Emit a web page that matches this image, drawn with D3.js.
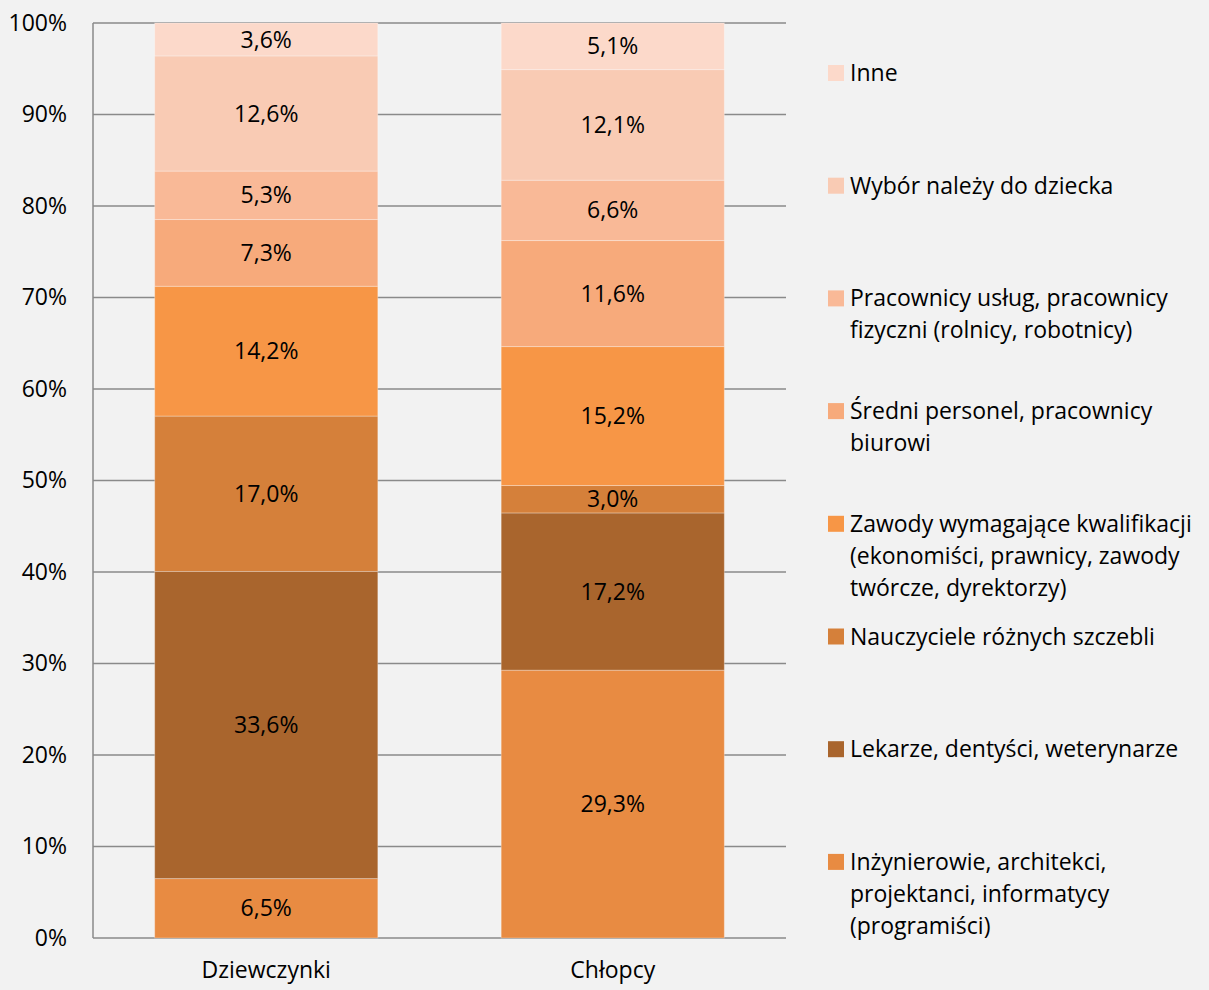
<!DOCTYPE html>
<html>
<head>
<meta charset="utf-8">
<script src="https://cdn.jsdelivr.net/npm/d3@7"></script>
<style>
  html, body { margin: 0; padding: 0; background: #f2f2f2; }
  svg { display: block; font-family: 'Open Sans', sans-serif; }
</style>
</head>
<body>
<div id="chart"></div>
<script>
const width = 1209;
const height = 990;
const fontSize = 23;

const groups = ['Dziewczynki', 'Chłopcy'];

// bottom to top
const series = [
    'Inżynierowie, architekci, projektanci, informatycy (programiści)',
    'Lekarze, dentyści, weterynarze',
    'Nauczyciele różnych szczebli',
    'Zawody wymagające kwalifikacji (ekonomiści, prawnicy, zawody twórcze, dyrektorzy)',
    'Średni personel, pracownicy biurowi',
    'Pracownicy usług, pracownicy fizyczni (rolnicy, robotnicy)',
    'Wybór należy do dziecka',
    'Inne',
];

const girls = [6.5, 33.6, 17.0, 14.2, 7.3, 5.3, 12.6, 3.6];
const boys = [29.3, 17.2, 3.0, 15.2, 11.6, 6.6, 12.1, 5.1];

const legendLines = [
    ['Inżynierowie, architekci,', 'projektanci, informatycy', '(programiści)'],
    ['Lekarze, dentyści, weterynarze'],
    ['Nauczyciele różnych szczebli'],
    ['Zawody wymagające kwalifikacji', '(ekonomiści, prawnicy, zawody', 'twórcze, dyrektorzy)'],
    ['Średni personel, pracownicy', 'biurowi'],
    ['Pracownicy usług, pracownicy', 'fizyczni (rolnicy, robotnicy)'],
    ['Wybór należy do dziecka'],
    ['Inne'],
];

const colors = ['#e88b42', '#a9652d', '#d5803a', '#f79646', '#f7aa7b', '#f9b997', '#f9cbb4', '#fcd9ca'];

const yTicks = [0, 0.1, 0.2, 0.3, 0.4, 0.5, 0.6, 0.7, 0.8, 0.9, 1];

const margin = {top: 23, left: 93, right: 423, bottom: 52};
const plotRight = width - margin.right;
const plotBottom = height - margin.bottom;

const table = groups.map((g, i) => {
    const row = {group: g};
    const vals = i === 0 ? girls : boys;
    series.forEach((s, j) => row[s] = vals[j]);
    return row;
});

const stack = d3.stack()
    .keys(series)
    .offset(d3.stackOffsetExpand);
const stacked = stack(table);

const x = d3.scaleBand()
    .domain(groups)
    .range([margin.left, plotRight])
    .paddingInner(0.356)
    .paddingOuter(0.178);

const y = d3.scaleLinear()
    .domain([0, 1])
    .range([plotBottom, margin.top]);

const color = d3.scaleOrdinal().domain(series).range(colors);

const svg = d3.select('#chart').append('svg')
    .attr('width', width)
    .attr('height', height);

svg.append('rect')
    .attr('width', width)
    .attr('height', height)
    .attr('fill', '#f2f2f2');

// grid
svg.append('g')
    .selectAll('line')
    .data(yTicks)
    .join('line')
    .attr('x1', margin.left)
    .attr('x2', plotRight)
    .attr('y1', d => y(d))
    .attr('y2', d => y(d))
    .attr('stroke', '#8a8a8a')
    .attr('stroke-width', 1.5);

svg.append('line')
    .attr('x1', margin.left)
    .attr('x2', margin.left)
    .attr('y1', margin.top)
    .attr('y2', plotBottom)
    .attr('stroke', '#8a8a8a')
    .attr('stroke-width', 1.5);

// y axis labels
const yAxis = d3.axisLeft(y)
    .tickValues(yTicks)
    .tickFormat(d3.format('.0%'))
    .tickSize(0)
    .tickPadding(26);

svg.append('g')
    .attr('transform', `translate(${margin.left},0)`)
    .call(yAxis)
    .call(g => g.select('.domain').remove())
    .selectAll('text')
    .attr('font-family', "'Open Sans', sans-serif")
    .attr('font-size', fontSize)
    .attr('fill', '#000');

// x axis labels
const xAxis = d3.axisBottom(x).tickSize(0).tickPadding(24);
svg.append('g')
    .attr('transform', `translate(0,${plotBottom})`)
    .call(xAxis)
    .call(g => g.select('.domain').remove())
    .selectAll('text')
    .attr('font-family', "'Open Sans', sans-serif")
    .attr('font-size', fontSize)
    .attr('fill', '#000');

// bars
const layer = svg.append('g')
    .selectAll('g')
    .data(stacked)
    .join('g')
    .attr('fill', d => color(d.key));

layer.selectAll('rect')
    .data(d => d)
    .join('rect')
    .attr('x', d => x(d.data.group))
    .attr('width', x.bandwidth())
    .attr('y', d => y(d[1]))
    .attr('height', d => y(d[0]) - y(d[1]))
    .attr('stroke', '#ffffff')
    .attr('stroke-opacity', 0.3)
    .attr('stroke-width', 1);

// data labels
const fmt = v => v.toFixed(1).replace('.', ',') + '%';
stacked.forEach(s => {
    svg.append('g')
        .selectAll('text')
        .data(s)
        .join('text')
        .attr('x', d => x(d.data.group) + x.bandwidth() / 2)
        .attr('y', d => (y(d[0]) + y(d[1])) / 2)
        .attr('dy', '0.35em')
        .attr('text-anchor', 'middle')
        .attr('font-size', fontSize)
        .attr('fill', '#000')
        .text(d => fmt(d.data[s.key]));
});

// legend, top entry = last series
const legendX = 828;
const legendTop = 73;
const legendStep = 112.7;
const lineH = 32;

const legend = svg.append('g')
    .selectAll('g')
    .data(series.map((s, i) => ({key: s, lines: legendLines[i], idx: series.length - 1 - i})))
    .join('g')
    .attr('transform', d => `translate(${legendX},${legendTop + d.idx * legendStep})`);

legend.append('rect')
    .attr('x', 0)
    .attr('y', -8)
    .attr('width', 16)
    .attr('height', 16)
    .attr('fill', d => color(d.key));

legend.append('text')
    .attr('font-size', fontSize)
    .attr('fill', '#000')
    .selectAll('tspan')
    .data(d => d.lines)
    .join('tspan')
    .attr('x', 22)
    .attr('y', (d, i) => i * lineH)
    .attr('dy', '0.35em')
    .text(d => d);
</script>
</body>
</html>
